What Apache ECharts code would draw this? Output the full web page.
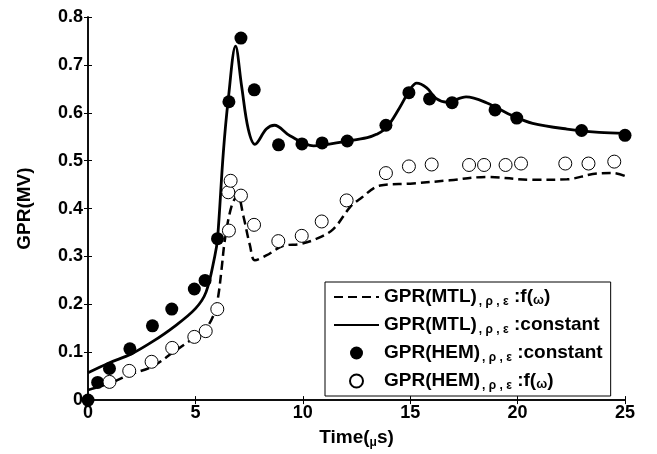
<!DOCTYPE html>
<html>
<head>
<meta charset="utf-8">
<title>GPR</title>
<script src="https://cdn.jsdelivr.net/npm/echarts@6/dist/echarts.min.js"></script>
<style>
html,body{margin:0;padding:0;background:#fff;}
#main{width:657px;height:454px;}
</style>
</head>
<body>
<div id="main"></div>
<script>
// GPR(MTL), rho/eps = f(w)  -- dashed
var mtlF_x = [0, 1, 2, 3, 4, 5, 5.5, 5.9, 6.07, 6.22, 6.38, 6.69, 6.97, 7.23, 7.54, 7.77, 8.3, 9.09, 9.87, 10.65, 11.42, 12.2, 12.66, 13.6, 15, 16.85, 18.55, 20.7, 22.3, 23.5, 24.46, 25];
var mtlF_y = [0.021, 0.035, 0.054, 0.07, 0.101, 0.132, 0.15, 0.184, 0.219, 0.274, 0.337, 0.406, 0.427, 0.385, 0.323, 0.292, 0.302, 0.322, 0.326, 0.337, 0.357, 0.403, 0.42, 0.448, 0.452, 0.459, 0.466, 0.46, 0.461, 0.472, 0.474, 0.468];
// GPR(MTL), constant -- solid
var mtlC_x = [0, 1, 2, 3, 4, 5, 5.5, 5.9, 6.03, 6.3, 6.53, 6.87, 7.15, 7.46, 7.77, 8.3, 8.68, 9.4, 10.5, 12.07, 13.0, 13.43, 13.9, 14.5, 15.0, 15.3, 15.77, 16.2, 16.7, 17.6, 18.55, 19.8, 20.7, 22.3, 23.8, 25];
var mtlC_y = [0.057, 0.078, 0.096, 0.122, 0.153, 0.191, 0.226, 0.3, 0.337, 0.517, 0.628, 0.739, 0.656, 0.566, 0.534, 0.566, 0.574, 0.552, 0.531, 0.541, 0.548, 0.555, 0.569, 0.61, 0.649, 0.662, 0.652, 0.63, 0.622, 0.633, 0.621, 0.593, 0.578, 0.566, 0.559, 0.557];
// GPR(HEM), constant -- filled dots
var hemC_x = [0, 0.45, 1.0, 1.95, 3.0, 3.9, 4.95, 5.45, 6.03, 6.56, 7.12, 7.74, 8.87, 9.96, 10.9, 12.07, 13.87, 14.94, 15.9, 16.95, 18.95, 19.96, 22.98, 25];
var hemC_y = [0, 0.037, 0.066, 0.107, 0.155, 0.19, 0.232, 0.25, 0.337, 0.623, 0.756, 0.648, 0.533, 0.535, 0.537, 0.541, 0.574, 0.642, 0.629, 0.621, 0.606, 0.589, 0.563, 0.553];
// GPR(HEM), f(w) -- open dots
var hemF_x = [1.0, 1.92, 2.96, 3.92, 4.95, 5.48, 6.02, 6.56, 6.53, 6.64, 7.12, 7.73, 8.86, 9.95, 10.88, 12.04, 13.87, 14.94, 16.0, 17.74, 18.44, 19.44, 20.16, 22.22, 23.3, 24.5];
var hemF_y = [0.038, 0.061, 0.08, 0.109, 0.132, 0.144, 0.19, 0.354, 0.434, 0.458, 0.427, 0.366, 0.332, 0.343, 0.373, 0.417, 0.474, 0.488, 0.492, 0.491, 0.491, 0.491, 0.494, 0.494, 0.494, 0.498];

var xTicks = [0, 5, 10, 15, 20, 25];
var yTicks = [0, 0.1, 0.2, 0.3, 0.4, 0.5, 0.6, 0.7, 0.8];

function pairs(xs, ys) {
  var out = [];
  for (var i = 0; i < xs.length; i++) {
    out.push([xs[i], ys[i]]);
  }
  return out;
}

var font = 'Liberation Sans, Arial, Helvetica, sans-serif';
var legendText = {
  'mtlF': '{m|GPR(MTL)}{s|, ρ , ε }{m|:f(}{w|ω}{m|)}',
  'mtlC': '{m|GPR(MTL)}{s|, ρ , ε }{m|:constant}',
  'hemC': '{m|GPR(HEM)}{s|, ρ , ε }{m|:constant}',
  'hemF': '{m|GPR(HEM)}{s|, ρ , ε }{m|:f(}{w|ω}{m|)}'
};

var myChart = echarts.init(document.getElementById('main'));
var option = {
  backgroundColor: '#fff',
  animation: false,
  grid: {left: 88, right: 32, top: 17, bottom: 52},
  legend: {
    orient: 'vertical',
    left: 325,
    top: 282,
    padding: [4, 8, 4, 8],
    itemGap: 6,
    itemWidth: 45,
    itemHeight: 13,
    borderColor: '#000',
    borderWidth: 1,
    borderRadius: 0,
    backgroundColor: '#fff',
    data: [
      {name: 'mtlF', itemStyle: {opacity: 0}},
      {name: 'mtlC', itemStyle: {opacity: 0}},
      'hemC',
      'hemF'
    ],
    formatter: function(name) { return legendText[name]; },
    textStyle: {
      color: '#000',
      rich: {
        m: {fontSize: 19, fontWeight: 'bold', fontFamily: font, color: '#000', lineHeight: 22},
        s: {fontSize: 12, fontWeight: 'bold', fontFamily: font, color: '#000', lineHeight: 12, verticalAlign: 'top', padding: [10, 2, 0, 2]},
        w: {fontSize: 13, fontWeight: 'bold', fontFamily: font, color: '#000', lineHeight: 13, verticalAlign: 'top', padding: [8, 0, 0, 0]}
      }
    }
  },
  xAxis: [{
    type: 'value',
    min: 0, max: 25, interval: 5,
    name: '{m|Time(}{u|μ}{m|s)}',
    nameLocation: 'middle',
    nameGap: 26,
    nameTextStyle: {
      rich: {
        m: {fontSize: 19, fontWeight: 'bold', fontFamily: font, color: '#000', lineHeight: 22},
        u: {fontSize: 12, fontWeight: 'bold', fontFamily: font, color: '#000', lineHeight: 12, verticalAlign: 'top', padding: [10, 0, 0, 0]}
      }
    },
    axisLine: {show: true, lineStyle: {color: '#000', width: 1.5}},
    axisTick: {show: true, inside: true, length: 4, lineStyle: {color: '#000'}},
    axisLabel: {
      color: '#000', fontSize: 18, fontWeight: 'bold', fontFamily: font, margin: 4,
      customValues: xTicks
    },
    splitLine: {show: false}
  }, {
    type: 'value',
    position: 'top',
    min: 0, max: 25, interval: 5,
    axisLine: {show: true, lineStyle: {color: '#000', width: 1.5}},
    axisTick: {show: true, inside: true, length: 4, lineStyle: {color: '#000'}},
    axisLabel: {show: false},
    splitLine: {show: false}
  }],
  yAxis: [{
    type: 'value',
    min: 0, max: 0.8, interval: 0.1,
    name: 'GPR(MV)',
    nameLocation: 'middle',
    nameGap: 54,
    nameTextStyle: {fontSize: 19, fontWeight: 'bold', fontFamily: font, color: '#000'},
    axisLine: {show: true, lineStyle: {color: '#000', width: 1.5}},
    axisTick: {show: true, inside: true, length: 4, lineStyle: {color: '#000'}},
    axisLabel: {
      color: '#000', fontSize: 18, fontWeight: 'bold', fontFamily: font, margin: 5,
      formatter: function(v) { return v === 0 ? '0' : v.toFixed(1); }
    },
    splitLine: {show: false}
  }, {
    type: 'value',
    position: 'right',
    min: 0, max: 0.8, interval: 0.1,
    axisLine: {show: true, lineStyle: {color: '#000', width: 1.5}},
    axisTick: {show: true, inside: true, length: 4, lineStyle: {color: '#000'}},
    axisLabel: {show: false},
    splitLine: {show: false}
  }],
  series: [{
    name: 'mtlF',
    type: 'line',
    data: pairs(mtlF_x, mtlF_y),
    symbol: 'none',
    smooth: 0.35,
    lineStyle: {color: '#000', width: 2.5, type: [9, 5]},
    itemStyle: {color: '#000'},
    z: 2
  }, {
    name: 'mtlC',
    type: 'line',
    data: pairs(mtlC_x, mtlC_y),
    symbol: 'none',
    smooth: 0.35,
    lineStyle: {color: '#000', width: 2.8, type: 'solid'},
    itemStyle: {color: '#000'},
    z: 2
  }, {
    name: 'hemC',
    type: 'scatter',
    data: pairs(hemC_x, hemC_y),
    symbol: 'circle',
    symbolSize: 13,
    itemStyle: {color: '#000', opacity: 1},
    z: 3
  }, {
    name: 'hemF',
    type: 'scatter',
    data: pairs(hemF_x, hemF_y),
    symbol: 'circle',
    symbolSize: 13,
    itemStyle: {color: '#fff', borderColor: '#000', borderWidth: 1, opacity: 1},
    z: 3
  }]
};
myChart.setOption(option);
</script>
</body>
</html>
